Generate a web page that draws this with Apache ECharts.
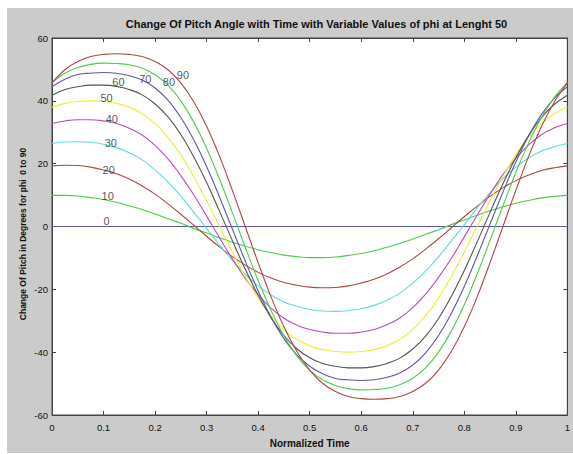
<!DOCTYPE html>
<html>
<head>
<meta charset="utf-8">
<script src="https://cdn.jsdelivr.net/npm/echarts@6/dist/echarts.min.js"></script>
<style>
html,body{margin:0;padding:0;background:#ffffff;width:573px;height:454px;overflow:hidden;}
#chart{position:absolute;left:7px;top:8px;width:566px;height:445px;background:#cbcbcb;}
</style>
</head>
<body>
<div id="chart"></div>
<script>
// Normalized time samples
var time = [0,0.025,0.05,0.075,0.1,0.125,0.15,0.175,0.2,0.225,0.25,0.275,0.3,0.325,0.35,0.375,0.4,0.425,0.45,0.475,
            0.5,0.525,0.55,0.575,0.6,0.625,0.65,0.675,0.7,0.725,0.75,0.775,0.8,0.825,0.85,0.875,0.9,0.925,0.95,0.975,1];

// Pitch angle (degrees) per phi value
var phi0  = [0,0,0,0,0,0,0,0,0,0,0,0,0,0,0,0,0,0,0,0,0,0,0,0,0,0,0,0,0,0,0,0,0,0,0,0,0,0,0,0,0];
var phi10 = [9.9,9.9,9.7,9.2,8.6,7.7,6.6,5.4,4.0,2.5,1.0,-0.6,-2.1,-3.6,-5.0,-6.3,-7.4,-8.3,-9.1,-9.6,-9.9,-9.9,-9.7,-9.2,-8.6,-7.7,-6.6,-5.4,-4.0,-2.5,-1.0,0.6,2.1,3.6,5.0,6.3,7.4,8.3,9.1,9.6,9.9];
var phi20 = [19.3,19.5,19.4,18.9,18.0,16.8,15.1,12.9,10.3,7.2,3.9,0.4,-3.1,-6.5,-9.6,-12.3,-14.6,-16.4,-17.8,-18.7,-19.3,-19.5,-19.4,-18.9,-18.0,-16.8,-15.1,-12.9,-10.3,-7.2,-3.9,-0.4,3.1,6.5,9.6,12.3,14.6,16.4,17.8,18.7,19.3];
var phi30 = [26.4,26.9,27.0,26.8,26.2,25.1,23.5,21.2,18.0,14.2,9.7,4.6,-0.6,-5.9,-10.8,-15.2,-18.9,-21.8,-24.0,-25.4,-26.4,-26.9,-27.0,-26.8,-26.2,-25.1,-23.5,-21.2,-18.0,-14.2,-9.7,-4.6,0.6,5.9,10.8,15.2,18.9,21.8,24.0,25.4,26.4];
var phi40 = [32.8,33.6,34.0,34.0,33.6,32.8,31.3,29.1,25.8,21.5,16.2,10.1,3.3,-3.6,-10.3,-16.5,-21.7,-26.0,-29.2,-31.4,-32.8,-33.6,-34.0,-34.0,-33.6,-32.8,-31.3,-29.1,-25.8,-21.5,-16.2,-10.1,-3.3,3.6,10.3,16.5,21.7,26.0,29.2,31.4,32.8];
var phi50 = [38.0,39.2,39.8,40.0,39.8,39.2,38.0,35.9,32.8,28.4,22.8,15.9,8.2,0,-8.2,-15.9,-22.8,-28.4,-32.8,-35.9,-38.0,-39.2,-39.8,-40.0,-39.8,-39.2,-38.0,-35.9,-32.8,-28.4,-22.8,-15.9,-8.2,0,8.2,15.9,22.8,28.4,32.8,35.9,38.0];
var phi60 = [41.8,43.6,44.5,45.0,45.0,44.6,43.6,41.9,39.0,34.9,29.3,22.2,14.0,4.9,-4.5,-13.6,-21.9,-29.0,-34.7,-38.9,-41.8,-43.6,-44.5,-45.0,-45.0,-44.6,-43.6,-41.9,-39.0,-34.9,-29.3,-22.2,-14.0,-4.9,4.5,13.6,21.9,29.0,34.7,38.9,41.8];
var phi70 = [44.5,46.9,48.4,48.8,49.0,48.8,48.0,46.6,44.1,40.2,34.7,27.6,19.1,9.4,-0.8,-11.0,-20.5,-28.9,-35.7,-40.9,-44.5,-46.9,-48.4,-48.8,-49.0,-48.8,-48.0,-46.6,-44.1,-40.2,-34.7,-27.6,-19.1,-9.4,0.8,11.0,20.5,28.9,35.7,40.9,44.5];
var phi80 = [45.8,48.8,50.6,51.6,52.0,51.9,51.5,50.4,48.3,45.0,40.0,33.3,24.9,15.1,4.4,-6.6,-17.2,-26.7,-34.8,-41.2,-45.8,-48.8,-50.6,-51.6,-52.0,-51.9,-51.5,-50.4,-48.3,-45.0,-40.0,-33.3,-24.9,-15.1,-4.4,6.6,17.2,26.7,34.8,41.2,45.8];
var phi90 = [45.7,49.9,52.5,54.1,54.8,55.0,54.8,54.1,52.5,49.9,45.7,39.7,31.9,22.4,11.5,0,-11.5,-22.4,-31.9,-39.7,-45.7,-49.9,-52.5,-54.1,-54.8,-55.0,-54.8,-54.1,-52.5,-49.9,-45.7,-39.7,-31.9,-22.4,-11.5,0,11.5,22.4,31.9,39.7,45.7];

var seriesNames = ['0','10','20','30','40','50','60','70','80','90'];
var seriesValues = [phi0,phi10,phi20,phi30,phi40,phi50,phi60,phi70,phi80,phi90];

// Curve annotation positions [time, degrees]
var labelText = ['0','10','20','30','40','50','60','70','80','90'];
var labelTime = [0.106,0.108,0.110,0.114,0.116,0.106,0.129,0.181,0.227,0.254];
var labelDeg  = [1.7,9.8,17.9,26.6,34.1,41.0,46.0,46.9,46.0,48.1];

var colors = ['#5a5aa8','#4ccc4c','#b34444','#5fdcdc','#bb4cbb','#eded3a','#555555','#5a5aa8','#4ccc4c','#b34444'];

var FONT = 'Liberation Sans, Arial, sans-serif';
var chart = echarts.init(document.getElementById('chart'), null, {renderer:'svg'});

var series = [];
for (var i = 0; i < seriesValues.length; i++) {
  var d = [];
  for (var j = 0; j < time.length; j++) d.push([time[j], seriesValues[i][j]]);
  series.push({
    name: seriesNames[i], type: 'line', data: d, smooth: 0.4,
    showSymbol: false, symbol: 'none',
    lineStyle: {color: colors[i], width: 1.1},
    itemStyle: {color: colors[i]},
    silent: true, animation: false, z: 2
  });
}
var lab = [];
for (var k = 0; k < labelText.length; k++) lab.push({name: labelText[k], value: [labelTime[k], labelDeg[k]]});
series.push({
  type: 'scatter', data: lab, symbolSize: 0, silent: true, animation: false, z: 5,
  label: {show: true, position: 'inside', formatter: function(p){return p.name;},
    color: '#2a2a2a', fontSize: 11, fontFamily: FONT}
});

var tickLabel = {color:'#111', fontSize: 9.5, fontFamily: FONT};
var axLine = {show: true, onZero: false, lineStyle: {color: '#444', width: 1}};
var tick = {show: true, inside: true, length: 4, lineStyle: {color: '#444'}};

chart.setOption({
  animation: false,
  backgroundColor: 'transparent',
  title: {
    text: 'Change Of Pitch Angle with Time with Variable Values of phi at Lenght 50',
    left: 304.5, top: 5, textAlign: 'center',
    textStyle: {fontSize: 11, fontWeight: 'bold', color: '#111', fontFamily: FONT}
  },
  grid: {left: 45, top: 30, width: 519, height: 385, show: true, backgroundColor: '#ffffff', borderColor: '#444', borderWidth: 1},
  xAxis: [{
    type: 'value', min: 0, max: 1, interval: 0.1, position: 'bottom',
    axisLine: axLine, splitLine: {show: false}, axisTick: tick,
    axisLabel: Object.assign({margin: 7, formatter: function(v){ return (v === 0 || v === 1) ? String(v) : v.toFixed(1); }}, tickLabel),
    name: 'Normalized Time', nameLocation: 'middle', nameGap: 23,
    nameTextStyle: {fontSize: 10, fontWeight: 'bold', color: '#111', fontFamily: FONT}
  },{
    type: 'value', min: 0, max: 1, interval: 0.1, position: 'top',
    axisLine: axLine, splitLine: {show: false}, axisTick: tick,
    axisLabel: {show: false}
  }],
  yAxis: [{
    type: 'value', min: -60, max: 60, interval: 20, position: 'left',
    axisLine: axLine, splitLine: {show: false}, axisTick: tick,
    axisLabel: Object.assign({margin: 4}, tickLabel)
  },{
    type: 'value', min: -60, max: 60, interval: 20, position: 'right',
    axisLine: axLine, splitLine: {show: false}, axisTick: tick,
    axisLabel: {show: false}
  }],
  graphic: [{
    type: 'text', x: 16, y: 226, rotation: Math.PI / 2,
    style: {text: 'Change Of Pitch in Degrees for phi  0 to 90', fill: '#111',
      font: 'bold 8.5px ' + FONT, textAlign: 'center', textVerticalAlign: 'middle'}
  }],
  series: series
});
</script>
</body>
</html>
